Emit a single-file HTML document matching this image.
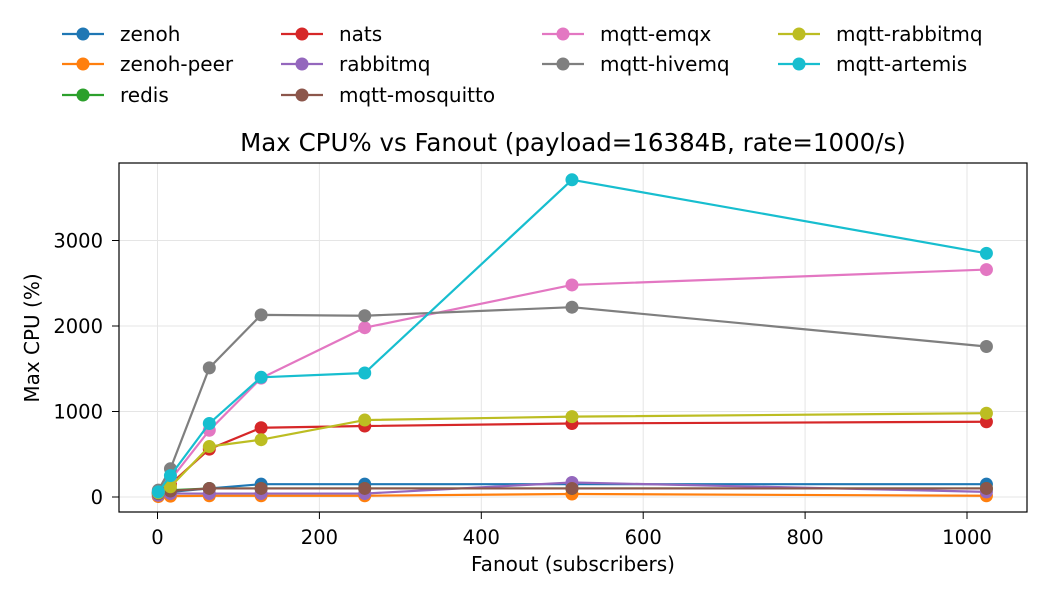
<!DOCTYPE html>
<html><head><meta charset="utf-8"><style>
body{margin:0;background:#fff;font-family:"Liberation Sans","DejaVu Sans",sans-serif}
svg text{font-family:"DejaVu Sans","Liberation Sans",sans-serif;fill:#000}
</style></head><body>
<svg id="c" width="1050" height="600" xmlns="http://www.w3.org/2000/svg"></svg>
<script>
const fanouts=[1,16,64,128,256,512,1024];
const seriesNames=["zenoh","zenoh-peer","redis","nats","rabbitmq","mqtt-mosquitto","mqtt-emqx","mqtt-hivemq","mqtt-rabbitmq","mqtt-artemis"];
const zenoh=[30,60,100,150,150,150,150];
const zenohPeer=[5,10,15,15,15,35,15];
const redis=[50,80,100,100,100,100,100];
const nats=[50,150,560,810,830,860,880];
const rabbitmq=[20,40,40,40,40,170,60];
const mosquitto=[40,70,100,100,100,100,100];
const emqx=[60,200,780,1390,1980,2480,2660];
const hivemq=[80,330,1510,2130,2120,2220,1760];
const mqttRabbit=[50,120,590,670,900,940,980];
const artemis=[60,250,860,1400,1450,3710,2850];
const xTicks=[0,200,400,600,800,1000];
const yTicks=[0,1000,2000,3000];
const allSeries=[zenoh,zenohPeer,redis,nats,rabbitmq,mosquitto,emqx,hivemq,mqttRabbit,artemis];
const colors=["#1f77b4","#ff7f0e","#2ca02c","#d62728","#9467bd","#8c564b","#e377c2","#7f7f7f","#bcbd22","#17becf"];
const L=119,R=1027,T=163,B=512;
const xs=v=>157.5+v*0.8095;
const ys=v=>497-v*0.0855;
const svg=document.getElementById('c');
const NS="http://www.w3.org/2000/svg";
function mk(tag,attrs,parent){const e=document.createElementNS(NS,tag);for(const k in attrs)e.setAttribute(k,attrs[k]);(parent||svg).appendChild(e);return e;}
xTicks.forEach(t=>{const g=mk('line',{x1:xs(t),x2:xs(t),y1:T,y2:B,stroke:'#e5e5e5','stroke-width':1});

});
yTicks.forEach(t=>{const g=mk('line',{x1:L,x2:R,y1:ys(t),y2:ys(t),stroke:'#e5e5e5','stroke-width':1});

});
allSeries.forEach((s,i)=>{
 const g=mk('g',{});
 
 
 mk('polyline',{points:s.map((v,j)=>xs(fanouts[j])+','+ys(v)).join(' '),fill:'none',stroke:colors[i],'stroke-width':2.2},g);
 s.forEach((v,j)=>{const c=mk('circle',{cx:xs(fanouts[j]),cy:ys(v),r:6.5,fill:colors[i]},g);
 
 });
});
const fr=mk('rect',{x:L,y:T,width:R-L,height:B-T,fill:'none',stroke:'#000','stroke-width':1.2});


xTicks.forEach(t=>{mk('line',{x1:xs(t),x2:xs(t),y1:B,y2:B+7,stroke:'#000'});
const tx=mk('text',{x:xs(t),y:B+32,'text-anchor':'middle','font-size':19.5});tx.textContent=t;

});
yTicks.forEach(t=>{mk('line',{x1:L-7,x2:L,y1:ys(t),y2:ys(t),stroke:'#000'});
const tx=mk('text',{x:L-16,y:ys(t)+7,'text-anchor':'end','font-size':19.5});tx.textContent=t;

});
const xt=mk('text',{x:573,y:571,'text-anchor':'middle','font-size':20});xt.textContent='Fanout (subscribers)';


const yt=mk('text',{x:0,y:0,'text-anchor':'middle','font-size':20,transform:'translate(39,338) rotate(-90)'});yt.textContent='Max CPU (%)';


const ti=mk('text',{x:573,y:151,'text-anchor':'middle','font-size':24.5});ti.textContent='Max CPU% vs Fanout (payload=16384B, rate=1000/s)';


const colX=[62,281,542,778],rowY=[34,64,95];
const order=[[0,0],[0,1],[0,2],[1,0],[1,1],[1,2],[2,0],[2,1],[3,0],[3,1]];
seriesNames.forEach((n,i)=>{const [c,r]=order[i];const x=colX[c],y=rowY[r];
 const g=mk('g',{});
 
 
 mk('line',{x1:x,x2:x+42,y1:y,y2:y,stroke:colors[i],'stroke-width':2.2},g);
 mk('circle',{cx:x+21,cy:y,r:6.5,fill:colors[i]},g);
 const t=mk('text',{x:x+58,y:y+7,'font-size':20},g);t.textContent=n;});
</script>
</body></html>
